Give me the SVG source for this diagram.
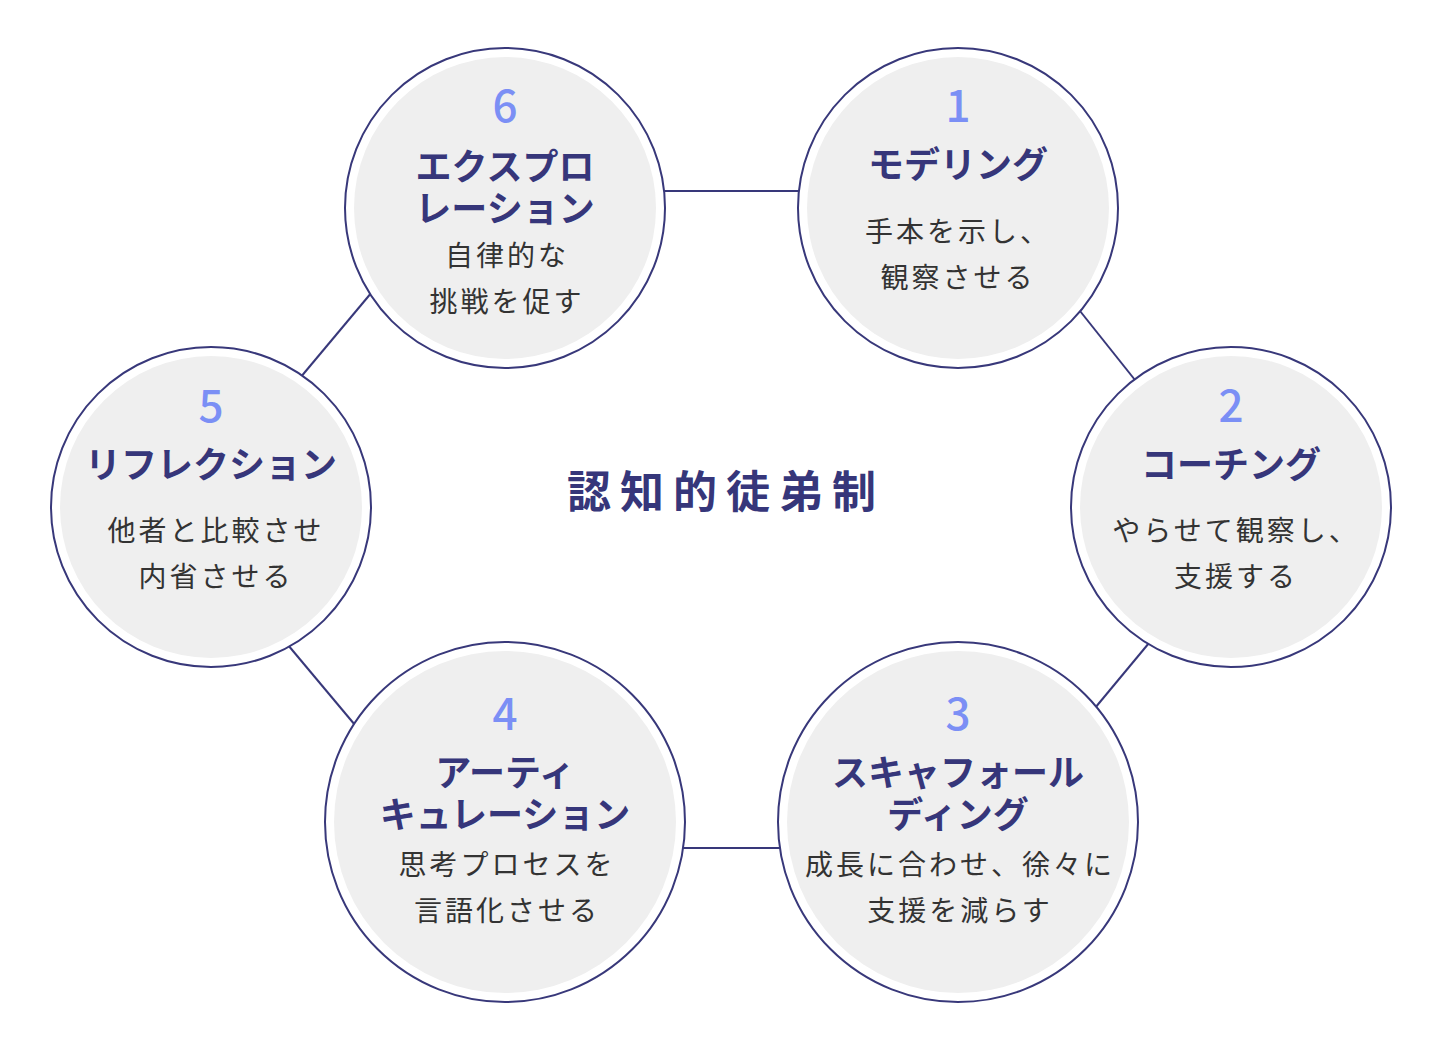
<svg xmlns="http://www.w3.org/2000/svg" width="1440" height="1056" viewBox="0 0 1440 1056">
<style>
.o{fill:#fff;stroke:#38387a;stroke-width:2}
.i{fill:#efefef}
.n{font-family:"Noto Sans CJK JP","Noto Sans",sans-serif;font-size:44px;fill:#7b8ff5;text-anchor:middle;font-weight:500}
.t{font-family:"Noto Sans CJK JP",sans-serif;font-size:36px;font-weight:700;fill:#36367a;text-anchor:middle}
.d{font-family:"Noto Sans CJK JP",sans-serif;font-size:28px;fill:#333;text-anchor:middle;letter-spacing:3px}
.c{stroke:#38387a;stroke-width:2;fill:none}
</style>
<rect width="1440" height="1056" fill="#fff"/>
<g id="connectors" class="c">
<line x1="660" y1="191" x2="802" y2="191"/>
<line x1="1080" y1="311" x2="1135" y2="380"/>
<line x1="1149" y1="643" x2="1095" y2="708"/>
<line x1="680" y1="848" x2="782" y2="848"/>
<line x1="288" y1="645" x2="355" y2="725"/>
<line x1="300" y1="378" x2="372" y2="292"/>
</g>
<text x="726" y="508" font-family="'Noto Sans CJK JP',sans-serif" font-size="44" font-weight="700" fill="#36367a" text-anchor="middle" letter-spacing="9">認知的徒弟制</text>
<g id="n1"><circle class="o" cx="958" cy="208" r="160"/><circle class="i" cx="958" cy="208" r="151"/>
<text class="n" x="958" y="122">1</text><text class="t" x="958" y="178">モデリング</text>
<text class="d" x="958" y="242">手本を示し、</text><text class="d" x="958" y="288">観察させる</text></g>
<g id="n2"><circle class="o" cx="1231" cy="507" r="160"/><circle class="i" cx="1231" cy="507" r="151"/>
<text class="n" x="1231" y="422">2</text><text class="t" x="1231" y="478">コーチング</text>
<text class="d" x="1236" y="541">やらせて観察し、</text><text class="d" x="1236" y="587">支援する</text></g>
<g id="n3"><circle class="o" cx="958" cy="822" r="180"/><circle class="i" cx="958" cy="822" r="171"/>
<text class="n" x="958" y="730">3</text><text class="t" x="958" y="786">スキャフォール</text><text class="t" x="958" y="828">ディング</text>
<text class="d" x="960" y="875" letter-spacing="1">成長に合わせ、徐々に</text><text class="d" x="960" y="921">支援を減らす</text></g>
<g id="n4"><circle class="o" cx="505" cy="822" r="180"/><circle class="i" cx="505" cy="822" r="171"/>
<text class="n" x="505" y="730">4</text><text class="t" x="505" y="786">アーティ</text><text class="t" x="505" y="828">キュレーション</text>
<text class="d" x="507" y="875">思考プロセスを</text><text class="d" x="507" y="921">言語化させる</text></g>
<g id="n5"><circle class="o" cx="211" cy="507" r="160"/><circle class="i" cx="211" cy="507" r="151"/>
<text class="n" x="211" y="422">5</text><text class="t" x="211" y="478">リフレクション</text>
<text class="d" x="216" y="541">他者と比較させ</text><text class="d" x="216" y="587">内省させる</text></g>
<g id="n6"><circle class="o" cx="505" cy="208" r="160"/><circle class="i" cx="505" cy="208" r="151"/>
<text class="n" x="505" y="122">6</text><text class="t" x="505" y="180">エクスプロ</text><text class="t" x="505" y="222">レーション</text>
<text class="d" x="507" y="266">自律的な</text><text class="d" x="507" y="312">挑戦を促す</text></g>
</svg>
